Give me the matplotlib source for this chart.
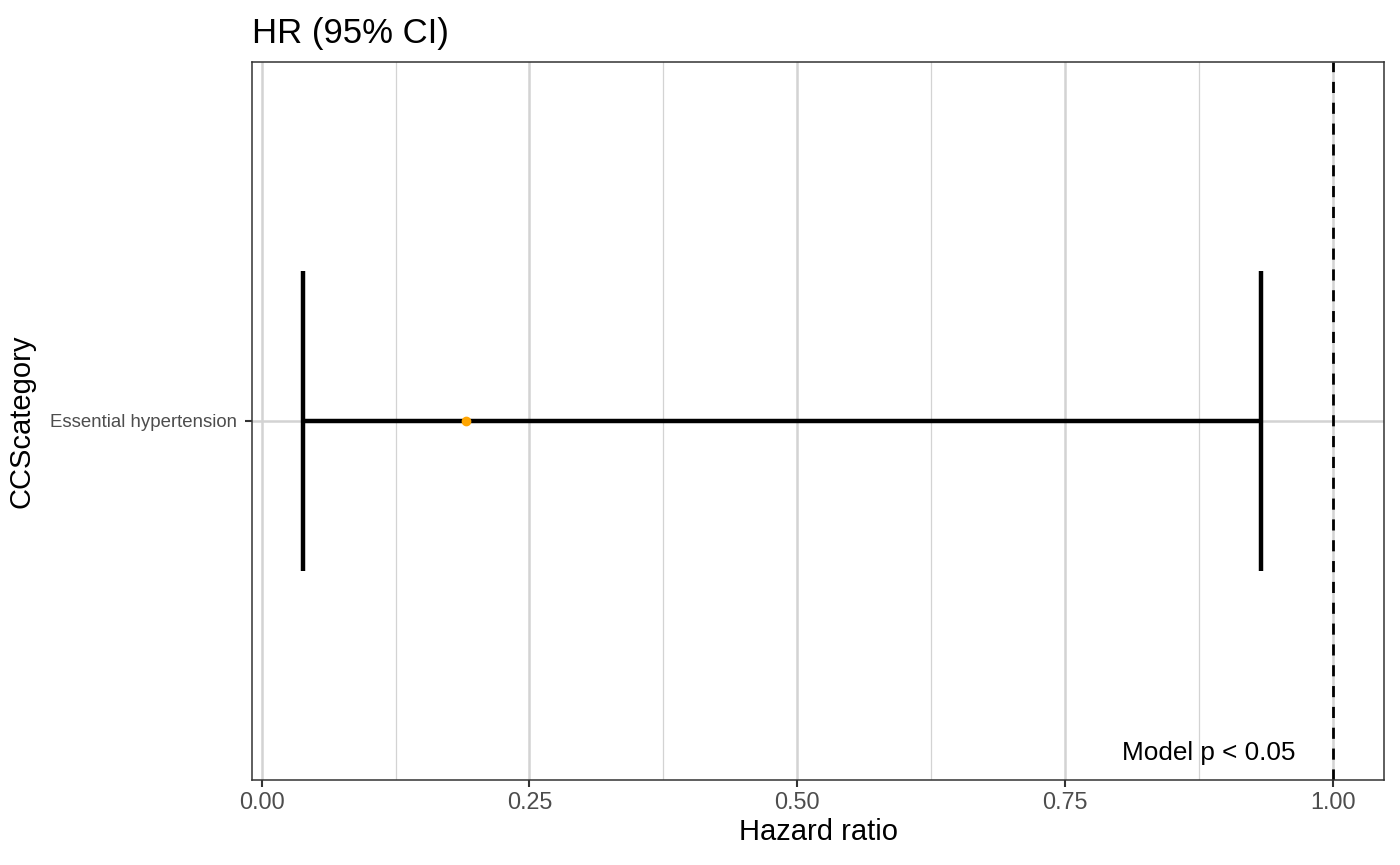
import numpy as np
import matplotlib
matplotlib.use("Agg")
import matplotlib.pyplot as plt
import matplotlib.transforms as mtransforms

plt.rcParams['font.family'] = ['Liberation Sans', 'DejaVu Sans']

# ---- datos ----
categories = ['Essential hypertension']
hr = [0.191]
ci_low = [0.039]
ci_high = [0.933]
ref_line = 1.0
x_ticks = [0.00, 0.25, 0.50, 0.75, 1.00]
x_minor = [0.125, 0.375, 0.625, 0.875]
note = 'Model p < 0.05'

fig = plt.figure(figsize=(14, 8.65), dpi=100)
ax = fig.add_axes([0.18, 0.0983, 0.8086, 0.830])

y = np.arange(len(categories))

# rejilla
grid_col = '#D3D3D3'
for v in x_ticks:
    ax.axvline(v, color=grid_col, lw=1.8, zorder=0)
for v in x_minor:
    ax.axvline(v, color=grid_col, lw=0.9, zorder=0)
for v in y:
    ax.axhline(v, color=grid_col, lw=1.8, zorder=0)

# intervalos
ax.hlines(y, ci_low, ci_high, color='black', lw=3.2, zorder=2)
ax.vlines(ci_low, y - 0.25, y + 0.25, color='black', lw=3.2, zorder=2)
ax.vlines(ci_high, y - 0.25, y + 0.25, color='black', lw=3.2, zorder=2)
ax.plot(hr, y, 'o', color='#FFA500', ms=6, zorder=3)

# linea de referencia
ax.axvline(ref_line, color='black', lw=2, linestyle=(0, (4, 3.5)), zorder=2)

lo = min(ci_low)
hi = max(max(ci_high), ref_line)
pad = 0.05 * (hi - lo)
ax.set_xlim(lo - pad, hi + pad)
ax.set_ylim(-0.6, len(categories) - 0.4)

trans = mtransforms.blended_transform_factory(ax.transData, ax.transAxes)
ax.text(0.965, 0.038, note, transform=trans, ha='right', va='center',
        fontsize=18.8, color='black')

ax.set_xticks(x_ticks)
ax.set_xticklabels([f'{v:.2f}' for v in x_ticks])
ax.set_yticks(y)
ax.set_yticklabels(categories)
ax.tick_params(axis='x', labelsize=16.8, labelcolor='#4D4D4D', color='#333333',
               length=5, width=1.5, pad=3)
ax.tick_params(axis='y', labelsize=13.4, labelcolor='#4D4D4D', color='#333333',
               length=5, width=1.5, pad=6)

for s in ax.spines.values():
    s.set_color('#333333')
    s.set_linewidth(1.1)

ax.set_xlabel('Hazard ratio', fontsize=21, labelpad=3)
ax.set_ylabel('CCScategory', fontsize=21, labelpad=10)
ax.set_title('HR (95% CI)', loc='left', fontsize=25, pad=14)

fig.savefig('out.png', dpi=100)
